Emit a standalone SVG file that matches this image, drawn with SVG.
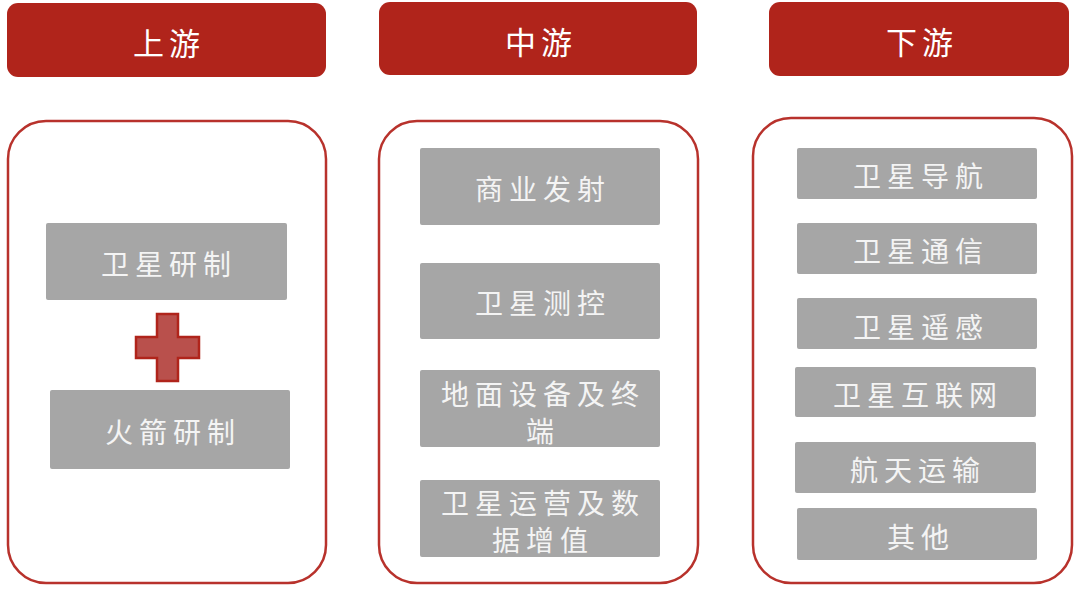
<svg xmlns="http://www.w3.org/2000/svg" width="1080" height="591" viewBox="0 0 1080 591">
<style>
.hdr{fill:#b0241b}
.hdrt{fill:#ffffff;font-family:"Noto Sans CJK SC",sans-serif;font-size:31px;letter-spacing:5px;text-anchor:middle;dominant-baseline:central}
.outer{fill:#ffffff;stroke:#b8322c;stroke-width:2.5}
.box{fill:#a6a6a6}
.bt{fill:#f4f4f4;font-family:"Noto Sans CJK SC",sans-serif;font-size:28px;letter-spacing:6px;text-anchor:middle;dominant-baseline:central}
</style>
<rect width="1080" height="591" fill="#ffffff"/>
<g id="hdr-up"><rect class="hdr" x="7" y="3" width="319" height="74" rx="11"/><text class="hdrt" x="169" y="41">上游</text></g>
<g id="hdr-mid"><rect class="hdr" x="379" y="2" width="318" height="73" rx="11"/><text class="hdrt" x="541" y="40">中游</text></g>
<g id="hdr-down"><rect class="hdr" x="769" y="2" width="300" height="74" rx="11"/><text class="hdrt" x="922" y="40">下游</text></g>
<g id="col-up"><rect class="outer" x="8" y="121" width="318" height="462" rx="38"/></g>
<g id="col-mid"><rect class="outer" x="379" y="121" width="319" height="462" rx="38"/></g>
<g id="col-down"><rect class="outer" x="753" y="118" width="319" height="465" rx="38"/></g>
<g id="n-sat-rd"><rect class="box" x="46" y="223" width="241" height="77" rx="2"/><text class="bt" x="169" y="263">卫星研制</text></g>
<g id="plus"><path d="M157 314 H178 V337 H199 V358 H178 V381 H157 V358 H136 V337 H157 Z" fill="#b9504c" stroke="#b0241b" stroke-width="2.5"/></g>
<g id="n-rocket-rd"><rect class="box" x="50" y="390" width="240" height="79" rx="2"/><text class="bt" x="173" y="431">火箭研制</text></g>
<g id="n-launch"><rect class="box" x="420" y="148" width="240" height="77" rx="2"/><text class="bt" x="543" y="188">商业发射</text></g>
<g id="n-ttc"><rect class="box" x="420" y="263" width="240" height="76" rx="2"/><text class="bt" x="543" y="302">卫星测控</text></g>
<g id="n-ground"><rect class="box" x="420" y="370" width="240" height="77" rx="2"/><text class="bt" x="543" y="393">地面设备及终</text><text class="bt" x="543" y="430">端</text></g>
<g id="n-ops"><rect class="box" x="420" y="480" width="240" height="77" rx="2"/><text class="bt" x="543" y="502">卫星运营及数</text><text class="bt" x="543" y="539">据增值</text></g>
<g id="n-nav"><rect class="box" x="797" y="148" width="240" height="51" rx="2"/><text class="bt" x="921" y="175">卫星导航</text></g>
<g id="n-comm"><rect class="box" x="797" y="223" width="240" height="51" rx="2"/><text class="bt" x="921" y="250">卫星通信</text></g>
<g id="n-rs"><rect class="box" x="797" y="298" width="240" height="51" rx="2"/><text class="bt" x="921" y="326">卫星遥感</text></g>
<g id="n-inet"><rect class="box" x="795" y="367" width="241" height="50" rx="2"/><text class="bt" x="918" y="394">卫星互联网</text></g>
<g id="n-trans"><rect class="box" x="795" y="442" width="241" height="51" rx="2"/><text class="bt" x="918" y="469">航天运输</text></g>
<g id="n-other"><rect class="box" x="797" y="508" width="240" height="52" rx="2"/><text class="bt" x="921" y="536">其他</text></g>
<g id="connectors"></g>
</svg>
